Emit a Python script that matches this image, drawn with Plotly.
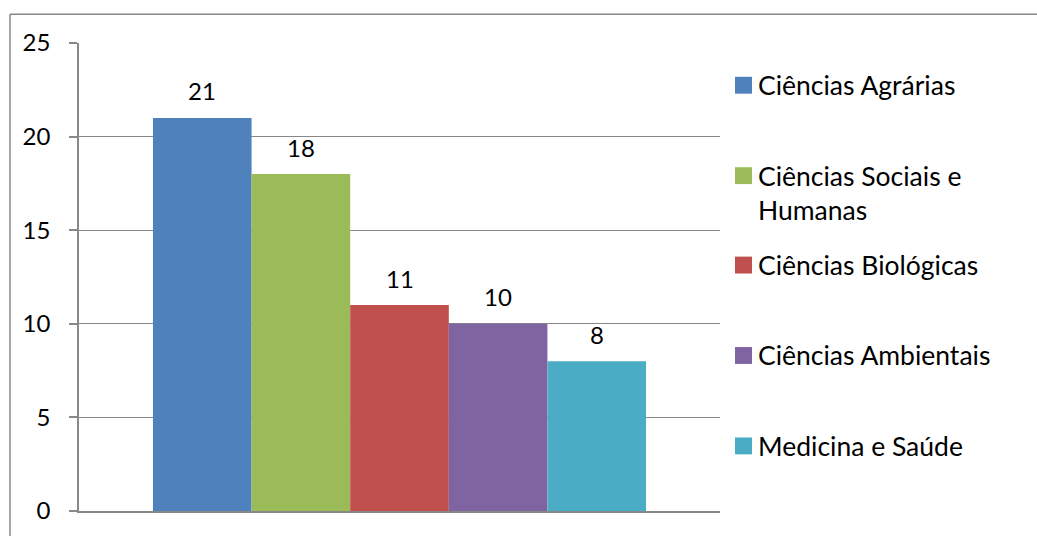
import plotly.graph_objects as go

# Número de projetos por área do conhecimento
areas = ["Ciências Agrárias", "Ciências Sociais e Humanas", "Ciências Biológicas",
         "Ciências Ambientais", "Medicina e Saúde"]
valores = [21, 18, 11, 10, 8]
cores = ["#4F81BD", "#9BBB59", "#C0504D", "#8064A2", "#4BACC6"]
y_ticks = [0, 5, 10, 15, 20, 25]

W, H = 1037, 536
L, R, T, B = 79, 720, 43, 514          # plot area in pixels
FONT = "Lato, 'Open Sans', sans-serif"
GRAY = "#888888"


def px_x(px):
    return (px - L) / (R - L)


def px_y(py):
    return (B - py) / (B - T)


fig = go.Figure()
for i, (nome, v, c) in enumerate(zip(areas, valores, cores)):
    fig.add_trace(go.Bar(x=[i], y=[v], width=1, name=nome,
                         marker=dict(color=c, line=dict(width=0)),
                         showlegend=False))
    # value label above each bar
    fig.add_annotation(x=i, y=v, text=str(v), showarrow=False, yshift=27,
                       yanchor="middle", font=dict(family=FONT, size=24, color="black"))

# legend drawn beside the plot
leg_y = [85.5, 176.5, 266.5, 357.5, 448.5]
wrap = {"Ciências Sociais e Humanas": ["Ciências Sociais e", "Humanas"]}
for nome, c, cy in zip(areas, cores, leg_y):
    fig.add_shape(type="rect", xref="paper", yref="paper",
                  x0=px_x(735), x1=px_x(752), y0=px_y(cy - 8.5), y1=px_y(cy + 8.5),
                  fillcolor=c, line=dict(width=0))
    for k, linha in enumerate(wrap.get(nome, [nome])):
        fig.add_annotation(xref="paper", yref="paper", x=px_x(756), y=px_y(cy + 35 * k),
                           text=linha, showarrow=False, xanchor="left", yanchor="middle",
                           font=dict(family=FONT, size=26.5, color="black"))

# chart-area frame
fig.add_shape(type="line", xref="paper", yref="paper",
              x0=px_x(10), x1=px_x(10), y0=px_y(14), y1=px_y(540),
              line=dict(color=GRAY, width=1.5))
fig.add_shape(type="line", xref="paper", yref="paper",
              x0=px_x(10), x1=px_x(1040), y0=px_y(14), y1=px_y(14),
              line=dict(color=GRAY, width=1.5))

fig.update_layout(
    width=W, height=H,
    margin=dict(l=L, r=W - R, t=T, b=H - B, pad=0),
    paper_bgcolor="white", plot_bgcolor="white",
    barmode="overlay",
    font=dict(family=FONT, size=24, color="black"),
)
fig.update_xaxes(range=[-1.25, 5.25], showgrid=False, zeroline=False,
                 showticklabels=False, ticks="", showline=True,
                 linecolor=GRAY, linewidth=1.5)
fig.update_yaxes(range=[0, 25], tickvals=y_ticks, showgrid=True, gridcolor=GRAY,
                 gridwidth=1, zeroline=False, showline=True, linecolor=GRAY,
                 linewidth=1.5, ticks="outside", ticklen=8, tickcolor=GRAY,
                 tickwidth=1.5, ticklabelstandoff=14,
                 tickfont=dict(family=FONT, size=24, color="black"))

fig.write_html("out.html")
